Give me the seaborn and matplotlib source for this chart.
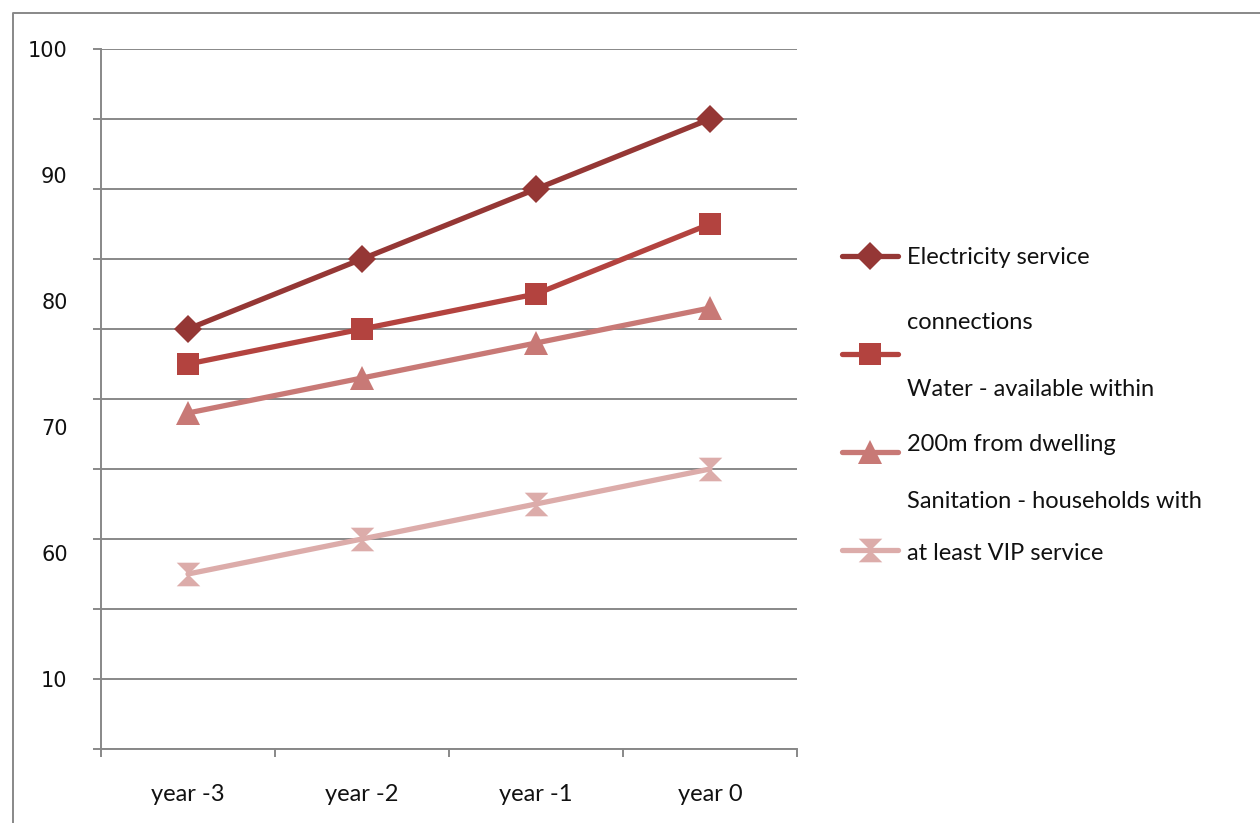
import matplotlib
matplotlib.use("Agg")
import matplotlib.pyplot as plt
from matplotlib.lines import Line2D
from matplotlib.path import Path
import seaborn as sns

# Service delivery trends over the last four years
years = ["year -3", "year -2", "year -1", "year 0"]
electricity = [60, 70, 80, 90]
water = [55, 60, 65, 75]
sanitation = [48, 53, 58, 63]
other = [25, 30, 35, 40]

series_values = [electricity, water, sanitation, other]
series_colors = ["#953735", "#B3433F", "#C87976", "#DCACAA"]

# tick labels printed on the value axis and where they sit
y_label_text = ["100", "90", "80", "70", "60", "10"]
y_label_pos = [100, 82, 64, 46, 28, 10]

legend_lines = [
    "Electricity service",
    "connections",
    "Water - available within",
    "200m from dwelling",
    "Sanitation - households with",
    "at least VIP service",
]

hourglass = Path([(-1, 1), (1, 1), (-1, -1), (1, -1), (-1, 1)],
                 [Path.MOVETO, Path.LINETO, Path.LINETO, Path.LINETO, Path.CLOSEPOLY])
series_markers = ["D", "s", "^", hourglass]
marker_sizes = [14, 16, 17, 17]

sns.set_theme(style="white")
plt.rcParams["font.family"] = ["Lato", "DejaVu Sans"]

W, H = 1260, 823
fig = plt.figure(figsize=(W / 100, H / 100), dpi=100)
ax = fig.add_axes([101 / W, 1 - 749 / H, (797 - 101) / W, (749 - 49) / H])

for vals, col, mk, ms in zip(series_values, series_colors, series_markers, marker_sizes):
    sns.lineplot(x=years, y=vals, ax=ax, color=col, marker=mk, markersize=ms,
                 markeredgewidth=0, linewidth=3.8, legend=False, sort=False)

grid_col = "#888888"
ax.yaxis.remove_overlapping_locs = False
ax.xaxis.remove_overlapping_locs = False
ax.set_ylim(0, 100)
ax.set_xlim(-0.5, 3.5)
ax.set_yticks(range(0, 101, 10))
ax.set_yticklabels([])
ax.set_yticks(y_label_pos, minor=True)
ax.set_yticklabels(y_label_text, minor=True)
ax.set_xticks([-0.5, 0.5, 1.5, 2.5, 3.5])
ax.set_xticklabels([])
ax.set_xticks(range(len(years)), minor=True)
ax.set_xticklabels(years, minor=True)
ax.tick_params(axis="both", which="major", length=6, width=1.4, color=grid_col, left=True, bottom=True)
ax.tick_params(axis="y", which="minor", length=0, pad=24, left=True,
               labelsize=15, labelcolor="#111111", labelfontfamily="DejaVu Sans")
ax.tick_params(axis="x", which="minor", length=0, pad=25, bottom=True,
               labelsize=17, labelcolor="#111111")
ax.yaxis.grid(True, which="major", color=grid_col, linewidth=1.4)
ax.xaxis.grid(False)
ax.set_axisbelow(True)
ax.set_xlabel("")
ax.set_ylabel("")
for s in ["top", "right"]:
    ax.spines[s].set_visible(False)
for s in ["left", "bottom"]:
    ax.spines[s].set_color(grid_col)
    ax.spines[s].set_linewidth(1.4)

# legend keys
key_y = [256, 354, 452, 550]
for y, col, mk, ms in zip(key_y, series_colors, series_markers, marker_sizes):
    fy = 1 - y / H
    fig.add_artist(Line2D([842 / W, 898 / W], [fy, fy], transform=fig.transFigure,
                          color=col, linewidth=3.8))
    fig.add_artist(Line2D([870 / W], [fy], transform=fig.transFigure, color=col,
                          marker=mk, markersize=ms, markeredgewidth=0, linestyle="none"))

text_y = [258, 322, 390, 444, 502, 554]
for y, t in zip(text_y, legend_lines):
    fig.text(907 / W, 1 - y / H, t, fontsize=17, va="center", ha="left", color="#111111")

# chart frame
fig.add_artist(Line2D([13 / W, 13 / W, 1], [0, 1 - 13 / H, 1 - 13 / H],
                      transform=fig.transFigure, color=grid_col, linewidth=1.4))

fig.savefig("out.png", dpi=100)
